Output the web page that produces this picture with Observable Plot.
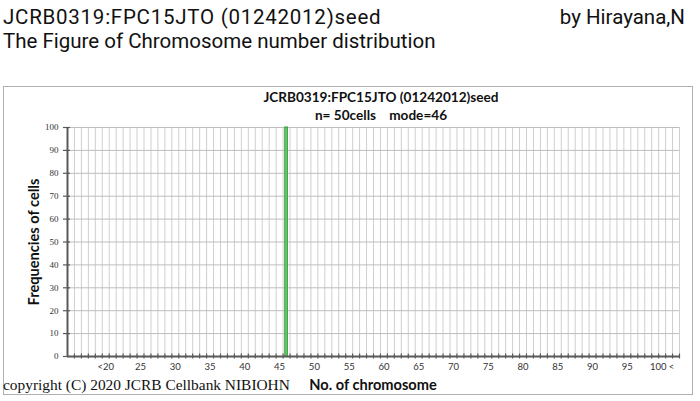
<!DOCTYPE html>
<html>
<head>
<meta charset="utf-8">
<script src="https://cdn.jsdelivr.net/npm/d3@7"></script>
<script src="https://cdn.jsdelivr.net/npm/@observablehq/plot@0.6"></script>
<style>
  html, body { margin: 0; padding: 0; background: #fff; }
  #wrap { position: relative; width: 700px; height: 401px; overflow: hidden; }
  .abs { position: absolute; white-space: nowrap; }
  .hdr { font-family: Roboto, "Noto Sans", sans-serif; font-size: 20.5px; color: #111; line-height: 24px; }
  .bold { font-family: Lato, "Open Sans", sans-serif; font-weight: bold; color: #111; }
  #box { position: absolute; left: 3px; top: 86px; width: 688px; height: 307px; border: 1px solid #b0b0b0; }
  #chart { position: absolute; left: 0; top: 0; }
</style>
</head>
<body>
<div id="wrap">
  <div id="box"></div>
  <div class="abs hdr" style="left:3px; top:5px; letter-spacing:0.75px;">JCRB0319:FPC15JTO (01242012)seed</div>
  <div class="abs hdr" style="right:15px; top:5px;">by Hirayana,N</div>
  <div class="abs hdr" style="left:3px; top:29px;">The Figure of Chromosome number distribution</div>
  <div class="abs bold" style="left:231px; width:300px; text-align:center; top:89px; font-size:13.6px; line-height:16px;">JCRB0319:FPC15JTO (01242012)seed</div>
  <div class="abs bold" style="left:231px; width:300px; text-align:center; top:107px; font-size:13.6px; line-height:16px; white-space:pre;">n= 50cells    mode=46</div>
  <div class="abs bold" style="left:33px; top:242px; font-size:14.6px; line-height:17px; transform: translate(-50%, -50%) rotate(-90deg);">Frequencies of cells</div>
  <div class="abs bold" style="left:223px; width:300px; text-align:center; top:376px; font-size:14.6px; line-height:17px;">No. of chromosome</div>
  <div class="abs" style="left:3px; top:376px; font-family:'Liberation Serif', 'DejaVu Serif', serif; font-size:15.4px; line-height:17px; color:#111;">copyright (C) 2020 JCRB Cellbank NIBIOHN</div>
  <div id="chart"></div>
</div>
<script>
// Chromosome numbers (categories) and frequencies (% of cells)
const chromosomes = [15,16,17,18,19,20,21,22,23,24,25,26,27,28,29,30,31,32,33,34,35,36,37,38,39,40,41,42,43,44,45,46,47,48,49,50,51,52,53,54,55,56,57,58,59,60,61,62,63,64,65,66,67,68,69,70,71,72,73,74,75,76,77,78,79,80,81,82,83,84,85,86,87,88,89,90,91,92,93,94,95,96,97,98,99,100,101,102];
const frequencies = [0,0,0,0,0,0,0,0,0,0,0,0,0,0,0,0,0,0,0,0,0,0,0,0,0,0,0,0,0,0,0,100,0,0,0,0,0,0,0,0,0,0,0,0,0,0,0,0,0,0,0,0,0,0,0,0,0,0,0,0,0,0,0,0,0,0,0,0,0,0,0,0,0,0,0,0,0,0,0,0,0,0,0,0,0,0,0,0];
const xTickValues = [20,25,30,35,40,45,50,55,60,65,70,75,80,85,90,95,100];
const xTickLabels = ["<20","25","30","35","40","45","50","55","60","65","70","75","80","85","90","95","100 <"];
const yTickValues = [0,10,20,30,40,50,60,70,80,90,100];

const data = chromosomes.map((c, i) => ({c, f: frequencies[i]}));
const lo = chromosomes[0] - 0.5;
const hi = chromosomes[chromosomes.length - 1] + 0.5;
const boundaries = chromosomes.map(c => c + 0.5);
const labelOf = new Map(xTickValues.map((v, i) => [v, xTickLabels[i]]));

const chart = Plot.plot({
  width: 700,
  height: 401,
  marginLeft: 67,
  marginRight: 21,
  marginTop: 127,
  marginBottom: 45,
  style: {background: "transparent", overflow: "visible"},
  x: {type: "linear", domain: [lo, hi], label: null},
  y: {domain: [0, 100], label: null},
  marks: [
    Plot.ruleX(boundaries, {stroke: "#cfcfcf", strokeWidth: 1}),
    Plot.ruleY(yTickValues.slice(1), {stroke: "#bdbdbd", strokeWidth: 1}),
    Plot.rectY(data.filter(d => d.f > 0), {
      x1: d => d.c - 0.5, x2: d => d.c + 0.5, y: "f",
      insetLeft: 2.2, insetRight: 2.2,
      fill: "#6ccf6c", stroke: "#2f9a3a", strokeWidth: 1
    }),
    Plot.axisX({ticks: boundaries, tickFormat: () => "", label: null, tickSize: 5, dy: -2.5, stroke: "#595959", strokeWidth: 1.2}),
    Plot.axisX({ticks: xTickValues, tickFormat: d => labelOf.get(d), label: null, tickSize: 0, tickPadding: 7,
      fontSize: 9.5, fontFamily: "Lato, 'Open Sans', sans-serif", fill: "#333"}),
    Plot.axisY({ticks: yTickValues, tickFormat: d => d, label: null, tickSize: 7, dx: 3, tickPadding: 5,
      fontSize: 9, fontFamily: "'Liberation Serif', serif", fill: "#333", stroke: "#595959", strokeWidth: 1.2}),
    Plot.ruleY([0], {stroke: "#595959", strokeWidth: 2}),
    Plot.ruleX([lo], {stroke: "#595959", strokeWidth: 2})
  ]
});
document.getElementById("chart").appendChild(chart);
</script>
</body>
</html>
